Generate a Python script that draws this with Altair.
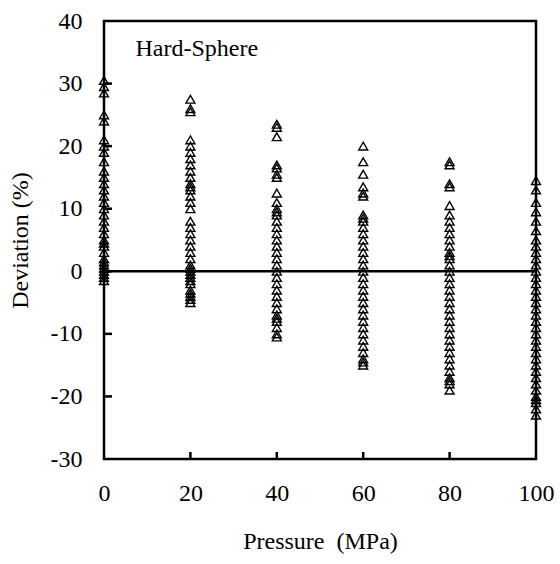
import altair as alt
import pandas as pd

pressures = [0, 20, 40, 60, 80, 100]

dev_0 = [30.5, 29.5, 28.5, 25, 24, 21, 20, 19, 17.5, 16, 15, 14, 13, 12, 11, 10, 9, 8, 7, 6,
         5, 4.5, 4, 3, 2, 1.5, 1, 0.5, 0, -0.5, -1, -1.5]
dev_20 = [27.5, 26, 25.5, 21, 20, 19, 18, 17, 16, 15, 14, 13.5, 13, 12, 11, 10, 8, 7, 6, 5,
          4, 3, 2, 1, 0.5, 0, -0.5, -1, -1.5, -2, -3, -3.5, -4, -4.5, -5]
dev_40 = [23.5, 23, 21.5, 17, 16.5, 15.5, 15, 12.5, 11, 10, 9.5, 9, 8, 7, 6, 5, 4, 3, 2, 1,
          0, -1, -2, -3, -4, -5, -6, -7, -7.5, -8, -9, -10, -10.5]
dev_60 = [20, 17.5, 15.5, 13.5, 12.5, 12, 9, 8.5, 8, 7, 6, 5, 4, 3, 2, 1, 0, -1, -2, -3,
          -4, -5, -6, -7, -8, -9, -10, -11, -12, -13, -14, -14.5, -15]
dev_80 = [17.5, 17, 14, 13.5, 10.5, 9, 8, 7, 6, 5, 4, 3, 2.5, 2, 1, 0, -1, -2, -3, -4,
          -5, -6, -7, -8, -9, -10, -11, -12, -13, -14, -15, -16, -17, -17.5, -18, -19]
dev_100 = [14.5, 13, 11, 9.5, 8, 6.5, 5, 4, 3, 2, 1, 0, -1, -2, -3, -4, -5, -6, -7, -8,
           -9, -10, -11, -12, -13, -14, -15, -16, -17, -18, -19, -20, -20.5, -21, -22, -23]

y_ticks = [-30, -20, -10, 0, 10, 20, 30, 40]
x_ticks = [0, 20, 40, 60, 80, 100]
inner_x_ticks = [20, 40, 60, 80]
inner_y_ticks = [-20, -10, 0, 10, 20, 30]

label_text = ["Hard-Sphere"]
label_x = [7.3]
label_y = [35.6]

rows = []
for p, vals in zip(pressures, [dev_0, dev_20, dev_40, dev_60, dev_80, dev_100]):
    for v in vals:
        rows.append({"p": p, "d": v})
df = pd.DataFrame(rows)

FONT = "'Times New Roman', 'Liberation Serif', 'DejaVu Serif', serif"
FS = 24
xs = alt.Scale(domain=[0, 100], nice=False, zero=False)
ys = alt.Scale(domain=[-30, 40], nice=False, zero=False)

xaxis = alt.Axis(values=x_ticks, title="Pressure\u00a0\u00a0(MPa)", domain=False, ticks=False,
                 grid=False, labelPadding=22, titlePadding=24,
                 labelFont=FONT, titleFont=FONT, labelFontSize=FS, titleFontSize=FS,
                 titleFontWeight="normal", labelColor="black", titleColor="black",
                 labelFlush=False)
yaxis = alt.Axis(values=y_ticks, title="Deviation (%)", domain=False, ticks=False,
                 grid=False, labelPadding=22, titlePadding=18,
                 labelFont=FONT, titleFont=FONT, labelFontSize=FS, titleFontSize=FS,
                 titleFontWeight="normal", labelColor="black", titleColor="black",
                 labelExpr="'' + datum.value", labelFlush=False)

points = alt.Chart(df).mark_point(shape="triangle-up", filled=False, color="black",
                                  strokeWidth=1.4, size=80, opacity=1).encode(
    x=alt.X("p:Q", scale=xs, axis=xaxis),
    y=alt.Y("d:Q", scale=ys, axis=yaxis),
)

zero = alt.Chart(pd.DataFrame({"z": [0]})).mark_rule(color="black", strokeWidth=2.5).encode(
    y=alt.Y("z:Q", scale=ys)
)

xt = alt.Chart(pd.DataFrame({"t": inner_x_ticks})).mark_rule(color="black", strokeWidth=2.5).encode(
    x=alt.X("t:Q", scale=xs), y=alt.value(438), y2=alt.value(431)
)
yt = alt.Chart(pd.DataFrame({"t": inner_y_ticks})).mark_rule(color="black", strokeWidth=2.5).encode(
    y=alt.Y("t:Q", scale=ys), x=alt.value(0), x2=alt.value(8)
)

txt = alt.Chart(pd.DataFrame({"s": label_text, "x": label_x, "y": label_y})).mark_text(
    font=FONT, fontSize=FS, align="left", baseline="middle", color="black"
).encode(x=alt.X("x:Q", scale=xs), y=alt.Y("y:Q", scale=ys), text="s:N")

chart = alt.layer(points, zero, xt, yt, txt).properties(
    width=432, height=438,
    autosize=alt.AutoSizeParams(type="none"),
    padding={"left": 104, "top": 21, "right": 24, "bottom": 105},
    background="white",
).configure_view(stroke="black", strokeWidth=2.5)

chart.save("out.html", embed_options={"renderer": "svg", "actions": False})
